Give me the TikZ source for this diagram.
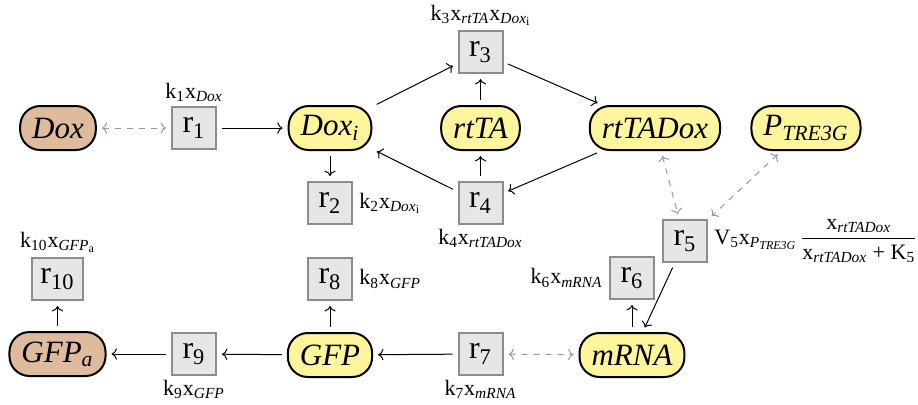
\documentclass[tikz,border=0pt]{standalone}
\usepackage{amsmath}
\usepackage{fontspec}
\setmainfont{Liberation Serif}
\usetikzlibrary{arrows.meta, positioning}
\definecolor{speciesyellow}{HTML}{FFF59D}
\definecolor{speciestan}{HTML}{DEBB9C}
\definecolor{rxnfill}{HTML}{E6E6E6}
\definecolor{rxnborder}{HTML}{8C8C8C}
\newcommand{\sub}[1]{\textsubscript{#1}}
\newcommand{\subsub}[1]{{\fontsize{6}{7}\selectfont\raisebox{-0.3ex}{#1}}}

\begin{document}
\begin{tikzpicture}[x=0.5pt, y=-0.5pt,
  species/.style={rectangle, rounded corners=10pt, draw=black, line width=1pt, fill=speciesyellow, minimum height=22pt, inner xsep=6pt, font=\fontsize{15.5}{18}\selectfont\itshape},
  input/.style={species, fill=speciestan},
  rxn/.style={rectangle, draw=rxnborder, line width=1pt, fill=rxnfill, minimum width=22pt, minimum height=21pt, inner xsep=4pt, font=\fontsize{16}{19}\selectfont},
  rate/.style={font=\fontsize{11}{13}\selectfont, inner sep=1pt},
  arrow/.style={->, line width=0.5pt, shorten >=2.5pt, shorten <=2.5pt},
  link/.style={<->, dashed, draw=gray!80, line width=0.5pt, shorten >=2.5pt, shorten <=2.5pt}
]
  \useasboundingbox (0,0) rectangle (918,404);

  % species
  \node[input] (dox) at (58, 128) {Dox};
  \node[species] (doxi) at (330, 128) {Dox\sub{i}};
  \node[species] (rtta) at (480.5, 128) {rtTA};
  \node[species] (rttadox) at (655, 128) {rtTADox};
  \node[species] (ptre) at (806, 128) {P\sub{TRE3G}};
  \node[species] (mrna) at (632, 355) {mRNA};
  \node[species] (gfp) at (330, 355) {GFP};
  \node[input] (gfpa) at (57.5, 354) {GFP\sub{a}};

  % reactions
  \node[rxn] (r1) at (194, 128) {r\sub{1}};
  \node[rxn] (r2) at (330, 203) {r\sub{2}};
  \node[rxn] (r3) at (480.5, 52) {r\sub{3}};
  \node[rxn] (r4) at (480.5, 203) {r\sub{4}};
  \node[rxn] (r5) at (685, 241) {r\sub{5}};
  \node[rxn] (r6) at (632, 278) {r\sub{6}};
  \node[rxn] (r7) at (480.5, 354) {r\sub{7}};
  \node[rxn] (r8) at (330, 279) {r\sub{8}};
  \node[rxn] (r9) at (194, 354) {r\sub{9}};
  \node[rxn] (r10) at (57.5, 279) {r\sub{10}};

  % rate laws
  \node[rate, above=1pt of r1] (k1) {k\sub{1}x\sub{\textit{Dox}}};
  \node[rate, right=2pt of r2] (k2) {k\sub{2}x\sub{\textit{Dox}\subsub{i}}};
  \node[rate, above=1pt of r3] (k3) {k\sub{3}x\sub{\textit{rtTA}}x\sub{\textit{Dox}\subsub{i}}};
  \node[rate, below=1pt of r4] (k4) {k\sub{4}x\sub{\textit{rtTADox}}};
  \node[rate, right=2pt of r5] (v5) {V\sub{5}x\sub{\textit{P}\subsub{\textit{TRE3G}}}\,$\dfrac{\text{x\sub{\textit{rtTADox}}}}{\text{x\sub{\textit{rtTADox}} + K\sub{5}}}$};
  \node[rate, left=2pt of r6] (k6) {k\sub{6}x\sub{\textit{mRNA}}};
  \node[rate, below=1pt of r7] (k7) {k\sub{7}x\sub{\textit{mRNA}}};
  \node[rate, right=2pt of r8] (k8) {k\sub{8}x\sub{\textit{GFP}}};
  \node[rate, below=1pt of r9] (k9) {k\sub{9}x\sub{\textit{GFP}}};
  \node[rate, above=1pt of r10] (k10) {k\sub{10}x\sub{\textit{GFP}\subsub{a}}};

  \draw[link] (dox) -- (r1);
  \draw[arrow] (r1) -- (doxi);
  \draw[arrow] (doxi) -- (r2);
  \draw[arrow] (doxi) -- (r3);
  \draw[arrow] (rtta) -- (r3);
  \draw[arrow] (r3) -- (rttadox);
  \draw[arrow] (rttadox) -- (r4);
  \draw[arrow] (r4) -- (rtta);
  \draw[arrow] (r4) -- (doxi);
  \draw[link] (rttadox) -- (r5);
  \draw[link] (ptre) -- (r5);
  \draw[arrow] (r5) -- (mrna);
  \draw[arrow] (mrna) -- (r6);
  \draw[link] (r7) -- (mrna);
  \draw[arrow] (r7) -- (gfp);
  \draw[arrow] (gfp) -- (r8);
  \draw[arrow] (gfp) -- (r9);
  \draw[arrow] (r9) -- (gfpa);
  \draw[arrow] (gfpa) -- (r10);
\end{tikzpicture}
\end{document}
